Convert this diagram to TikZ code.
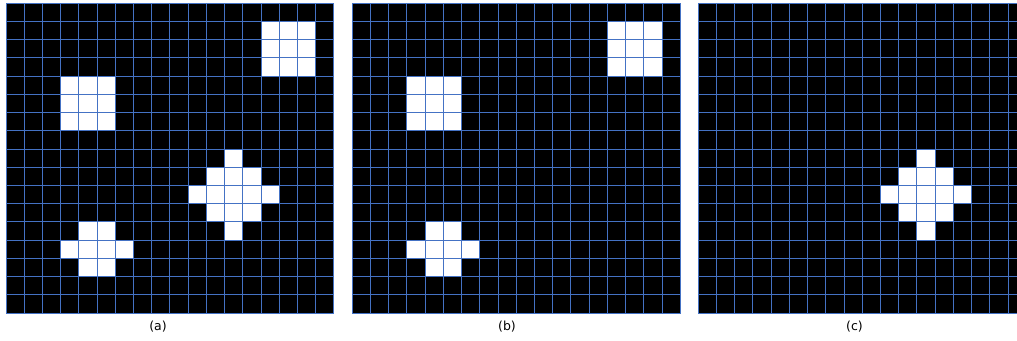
\documentclass[tikz,border=0pt]{standalone}
\usepackage{fontspec}
\setmainfont{DejaVu Sans}
\definecolor{gridblue}{RGB}{68,114,196}

\begin{document}
\begin{tikzpicture}[x=1pt,y=1pt,
	gridline/.style={draw=gridblue, line width=1pt},
	oncell/.style={fill=white},
	caption/.style={font=\fontsize{12.5}{14}\selectfont, inner sep=0pt}]
			\clip (0,0) rectangle (1017,340);
			\useasboundingbox (0,0) rectangle (1017,340);
			\fill[white] (0,0) rectangle (1017,340);
			% (a)
			\begin{scope}[shift={(6pt,27pt)}, x=18.22pt, y=18.22pt]
				\fill[black] (0,0) rectangle (18,17);
				\fill[oncell] (14,13) rectangle (17,16);
				\fill[oncell] (3,10) rectangle (6,13);
				\fill[oncell] (12,8) rectangle (13,9);
				\fill[oncell] (11,7) rectangle (14,8);
				\fill[oncell] (10,6) rectangle (15,7);
				\fill[oncell] (11,5) rectangle (14,6);
				\fill[oncell] (12,4) rectangle (13,5);
				\fill[oncell] (4,4) rectangle (6,5);
				\fill[oncell] (3,3) rectangle (7,4);
				\fill[oncell] (4,2) rectangle (6,3);
				\draw[gridline, step=1] (0,0) grid (18,17);
				\draw[gridline] (0,0) rectangle (18,17);
			\end{scope}
			% (b)
			\begin{scope}[shift={(352.3pt,27pt)}, x=18.22pt, y=18.22pt]
				\fill[black] (0,0) rectangle (18,17);
				\fill[oncell] (14,13) rectangle (17,16);
				\fill[oncell] (3,10) rectangle (6,13);
				\fill[oncell] (4,4) rectangle (6,5);
				\fill[oncell] (3,3) rectangle (7,4);
				\fill[oncell] (4,2) rectangle (6,3);
				\draw[gridline, step=1] (0,0) grid (18,17);
				\draw[gridline] (0,0) rectangle (18,17);
			\end{scope}
			% (c)
			\begin{scope}[shift={(698.3pt,27pt)}, x=18.22pt, y=18.22pt]
				\fill[black] (0,0) rectangle (18,17);
				\fill[oncell] (12,8) rectangle (13,9);
				\fill[oncell] (11,7) rectangle (14,8);
				\fill[oncell] (10,6) rectangle (15,7);
				\fill[oncell] (11,5) rectangle (14,6);
				\fill[oncell] (12,4) rectangle (13,5);
				\draw[gridline, step=1] (0,0) grid (18,17);
				\draw[gridline] (0,0) rectangle (18,17);
			\end{scope}
			\node[caption] (capa) at (158,13) {(a)};
			\node[caption] (capb) at (507,13) {(b)};
			\node[caption] (capc) at (854.5,13) {(c)};
		\end{tikzpicture}
\end{document}
